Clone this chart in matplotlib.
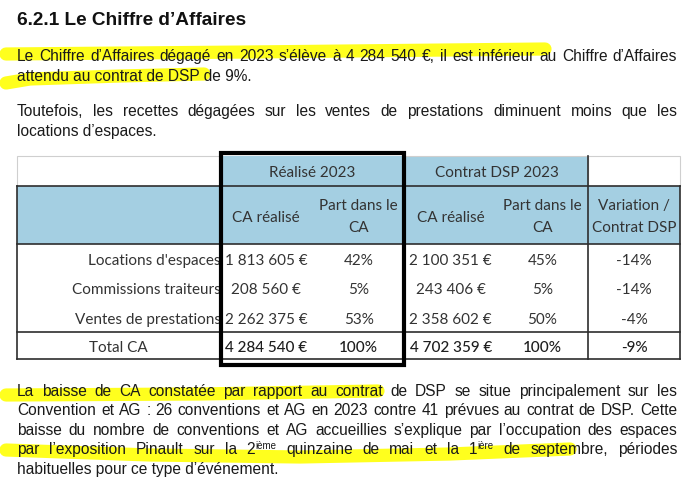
import matplotlib
matplotlib.use('Agg')
import matplotlib.pyplot as plt
from matplotlib.patches import Rectangle

# Données du tableau
categories = ["Locations d'espaces", "Commissions traiteurs", "Ventes de prestations"]
ca_2023 = [1813605, 208560, 2262375]
part_2023 = [42, 5, 53]
ca_dsp = [2100351, 243406, 2358602]
part_dsp = [45, 5, 50]
variation = [-14, -14, -4]
variation_total = -9
group_labels = ["Réalisé 2023", "Contrat DSP 2023"]
col_labels = ["CA réalisé", "Part dans le\nCA", "CA réalisé", "Part dans le\nCA", "Variation /\nContrat DSP"]
total_label = "Total CA"

# Textes de la page
titre = "6.2.1 Le Chiffre d’Affaires"
para1 = ["Le Chiffre d’Affaires dégagé en 2023 s’élève à 4 284 540 €, il est inférieur au Chiffre d’Affaires",
         "attendu au contrat de DSP de 9%."]
para2 = ["Toutefois, les recettes dégagées sur les ventes de prestations diminuent moins que les",
         "locations d’espaces."]
para3 = ["La baisse de CA constatée par rapport au contrat de DSP se situe principalement sur les",
         "Convention et AG : 26 conventions et AG en 2023 contre 41 prévues au contrat de DSP. Cette",
         "baisse du nombre de conventions et AG accueillies s’explique par l’occupation des espaces",
         "par l’exposition Pinault sur la 2^ième quinzaine de mai et la 1^ière de septembre, périodes",
         "habituelles pour ce type d’événement."]


def euro(v):
    return f"{v:,}".replace(",", " ") + " €"


fig = plt.figure(figsize=(7, 4.85), dpi=100)
ax = fig.add_axes([0, 0, 1, 1])
ax.set_xlim(0, 700)
ax.set_ylim(485, 0)
ax.axis('off')
renderer = fig.canvas.get_renderer()

BODY = dict(family='Liberation Sans', size=11.2, color='#1a1a1a')
X0, X1 = 17, 677


def largeur(t):
    return t.get_window_extent(renderer).width


def ligne(txt, y, justify):
    if not justify:
        ax.text(X0, y, txt, va='baseline', ha='left', zorder=3, **BODY)
        return
    mots = []
    for w in txt.split(' '):
        parts = []
        if '^' in w:
            base, sup = w.split('^')
            parts.append(ax.text(0, y, base, va='baseline', zorder=3, **BODY))
            kw = dict(BODY, size=7)
            parts.append(ax.text(0, y - 5.5, sup, va='baseline', zorder=3, **kw))
        else:
            parts.append(ax.text(0, y, w, va='baseline', zorder=3, **BODY))
        mots.append((parts, sum(largeur(p) for p in parts)))
    total = sum(m[1] for m in mots)
    gap = (X1 - X0 - total) / (len(mots) - 1)
    x = X0
    for parts, w in mots:
        xx = x
        for p in parts:
            p.set_x(xx)
            xx += largeur(p)
        x += w + gap


def paragraphe(lignes, y0, pas):
    for i, l in enumerate(lignes):
        ligne(l, y0 + i * pas, i < len(lignes) - 1)


# Titre et paragraphes
ax.text(X0, 25, titre, family='Liberation Sans', size=13.7, weight='bold', color='#111111', va='baseline')
paragraphe(para1, 61, 20)
paragraphe(para2, 116, 20)
paragraphe(para3, 396, 19.5)

# Surlignages jaunes
jaune = '#ffff1e'
for xs, ys in [([6, 250, 545], [55, 53, 50]),
               ([6, 30, 120, 204], [84, 80, 77, 75]),
               ([6, 200, 378], [396, 395, 392]),
               ([6, 150, 300, 450, 570], [451, 456, 458, 455, 450])]:
    ax.plot(xs, ys, color=jaune, lw=9.5, solid_capstyle='round', zorder=1)

# Tableau
bleu = '#a4cfe2'
gris = '#cfcfcf'
fonce = '#2e2e2e'
TAB = dict(family='Lato', size=11, color='#333333')
xe = [17, 220, 312.5, 405, 496.5, 588, 680]
ye = [157, 187, 245, 333, 360]
cx = [(xe[i] + xe[i + 1]) / 2 for i in range(len(xe) - 1)]

ax.add_patch(Rectangle((xe[0], ye[0]), xe[1] - xe[0], ye[1] - ye[0], fc='white', ec=gris, lw=0.8, zorder=1))
ax.add_patch(Rectangle((xe[5], ye[0]), xe[6] - xe[5], ye[1] - ye[0], fc='white', ec=gris, lw=0.8, zorder=1))
ax.add_patch(Rectangle((xe[1], ye[0]), xe[3] - xe[1], ye[1] - ye[0], fc=bleu, ec='none', zorder=1))
ax.add_patch(Rectangle((xe[3], ye[0]), xe[5] - xe[3], ye[1] - ye[0], fc=bleu, ec=gris, lw=0.8, zorder=1))
ax.add_patch(Rectangle((xe[0], ye[1]), xe[6] - xe[0], ye[2] - ye[1], fc=bleu, ec='none', zorder=1))

for y in ye[1:]:
    ax.plot([xe[0], xe[6]], [y, y], color=fonce, lw=1.2, zorder=2)
for x, ytop in [(xe[0], ye[1]), (xe[6], ye[1]), (xe[3], ye[0]), (xe[5], ye[0])]:
    ax.plot([x, x], [ytop, ye[4]], color=fonce, lw=1.2, zorder=2)

# En-têtes
for lab, a, b in zip(group_labels, [1, 3], [3, 5]):
    ax.text((xe[a] + xe[b]) / 2, 177, lab, ha='center', va='baseline', zorder=3, **TAB)
for lab, x in zip(col_labels, cx[1:]):
    l = lab.split('\n')
    if len(l) == 1:
        ax.text(x, 222, l[0], ha='center', va='baseline', zorder=3, **TAB)
    else:
        ax.text(x, 210, l[0], ha='center', va='baseline', zorder=3, **TAB)
        ax.text(x, 232, l[1], ha='center', va='baseline', zorder=3, **TAB)

# Lignes de données
hrow = (ye[3] - ye[2]) / len(categories)
for i, cat in enumerate(categories):
    yb = ye[2] + (i + 0.5) * hrow + 5.5
    ax.text(xe[1] + 1, yb, cat, ha='right', va='baseline', zorder=3, **TAB)
    vals = [euro(ca_2023[i]), f"{part_2023[i]}%", euro(ca_dsp[i]), f"{part_dsp[i]}%", f"{variation[i]}%"]
    for v, x in zip(vals, cx[1:]):
        ax.text(x, yb, v, ha='center', va='baseline', zorder=3, **TAB)

# Ligne total
yb = (ye[3] + ye[4]) / 2 + 5.5
TOT = dict(TAB, weight='medium', color='#1e1e1e')
ax.text(cx[0], yb, total_label, ha='center', va='baseline', zorder=3, **TAB)
tot = [euro(sum(ca_2023)), f"{sum(part_2023)}%", euro(sum(ca_dsp)), f"{sum(part_dsp)}%", f"{variation_total}%"]
for v, x in zip(tot, cx[1:]):
    ax.text(x, yb, v, ha='center', va='baseline', zorder=3, **TOT)

# Cadre épais autour du réalisé
ax.add_patch(Rectangle((220.5, 153.5), 183.5, 212.5, fc='none', ec='black', lw=3, zorder=4))

fig.savefig('out.png', dpi=100)
